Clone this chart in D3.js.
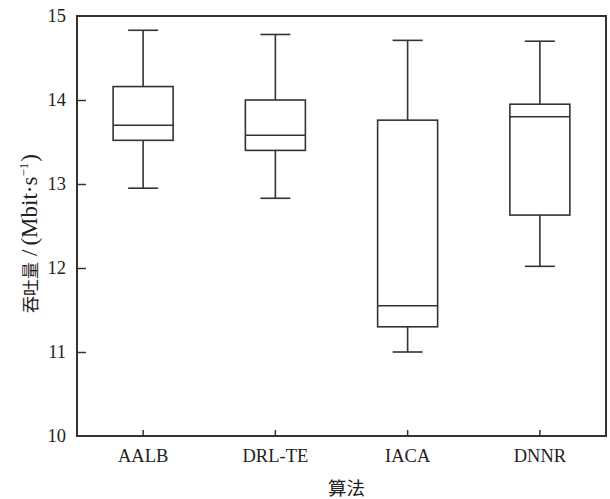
<!DOCTYPE html>
<html>
<head>
<meta charset="utf-8">
<script src="https://cdn.jsdelivr.net/npm/d3@7"></script>
<style>
  body { margin: 0; background: #fff; }
  svg { display: block; }
  .serif { font-family: "Liberation Serif", "Tinos", "Times New Roman", "DejaVu Serif", serif; }
  .cjk { font-family: "Noto Sans CJK SC", "Noto Sans CJK JP", sans-serif; }
</style>
</head>
<body>
<svg id="chart" width="610" height="499"></svg>
<script>
// Throughput distribution per algorithm (Mbit/s)
const algorithms = ["AALB", "DRL-TE", "IACA", "DNNR"];
const whiskerLow  = [12.95, 12.83, 11.00, 12.02];
const quartile1   = [13.52, 13.40, 11.30, 12.63];
const medians     = [13.70, 13.58, 11.55, 13.80];
const quartile3   = [14.16, 14.00, 13.76, 13.95];
const whiskerHigh = [14.83, 14.78, 14.71, 14.70];
const yTicks = [10, 11, 12, 13, 14, 15];

const boxes = algorithms.map((name, i) => ({
  name, lo: whiskerLow[i], q1: quartile1[i], med: medians[i], q3: quartile3[i], hi: whiskerHigh[i]
}));

const svg = d3.select("#chart");
const margin = { left: 77, right: 4, top: 16, bottom: 63 };
const W = 610, H = 499;
const ink = "#333";

const x = d3.scaleBand().domain(algorithms)
  .range([margin.left, W - margin.right]).paddingInner(0).paddingOuter(0);
const y = d3.scaleLinear().domain([10, 15]).range([H - margin.bottom, margin.top]);

const boxW = 60, capW = 30;

// axes with inward ticks
const yAxis = svg.append("g").attr("transform", `translate(${margin.left},0)`)
  .call(d3.axisLeft(y).tickValues(yTicks).tickSize(-9).tickPadding(11).tickFormat(d3.format("d")));
const xAxis = svg.append("g").attr("transform", `translate(0,${H - margin.bottom})`)
  .call(d3.axisBottom(x).tickSize(-6).tickPadding(13));

[yAxis, xAxis].forEach(g => {
  g.attr("font-family", null).attr("font-size", null);
  g.select(".domain").remove();
  g.selectAll(".tick line").attr("stroke", ink).attr("stroke-width", 1.5);
  g.selectAll(".tick text").attr("class", "serif").attr("fill", "#222").attr("font-size", 18.5);
});
yAxis.selectAll(".tick").filter(d => d === 10 || d === 15).select("line").remove();

// plot frame
svg.append("rect")
  .attr("x", margin.left).attr("y", margin.top)
  .attr("width", W - margin.left - margin.right)
  .attr("height", H - margin.top - margin.bottom)
  .attr("fill", "none").attr("stroke", ink).attr("stroke-width", 2);

// box plots
const g = svg.append("g").attr("stroke", ink).attr("stroke-width", 1.6).attr("fill", "none");
const cx = d => x(d.name) + x.bandwidth() / 2;
const items = g.selectAll("g.box").data(boxes).join("g").attr("class", "box");
items.append("line").attr("x1", cx).attr("x2", cx).attr("y1", d => y(d.hi)).attr("y2", d => y(d.q3));
items.append("line").attr("x1", cx).attr("x2", cx).attr("y1", d => y(d.q1)).attr("y2", d => y(d.lo));
items.append("line").attr("x1", d => cx(d) - capW / 2).attr("x2", d => cx(d) + capW / 2)
  .attr("y1", d => y(d.hi)).attr("y2", d => y(d.hi));
items.append("line").attr("x1", d => cx(d) - capW / 2).attr("x2", d => cx(d) + capW / 2)
  .attr("y1", d => y(d.lo)).attr("y2", d => y(d.lo));
items.append("rect").attr("x", d => cx(d) - boxW / 2).attr("width", boxW)
  .attr("y", d => y(d.q3)).attr("height", d => y(d.q1) - y(d.q3)).attr("fill", "#fff");
items.append("line").attr("x1", d => cx(d) - boxW / 2).attr("x2", d => cx(d) + boxW / 2)
  .attr("y1", d => y(d.med)).attr("y2", d => y(d.med));

// y axis title
const yTitle = svg.append("text")
  .attr("transform", "translate(37,233.5) rotate(-90)")
  .attr("text-anchor", "middle").attr("fill", "#222");
yTitle.append("tspan").attr("class", "cjk").attr("font-size", 17).text("吞吐量");
yTitle.append("tspan").attr("class", "serif").attr("font-size", 23).attr("dx", 6).text("/");
yTitle.append("tspan").attr("class", "serif").attr("font-size", 23).attr("dx", 4).text("(Mbit·s");
yTitle.append("tspan").attr("class", "serif").attr("font-size", 13).attr("dy", -9).text("−1");
yTitle.append("tspan").attr("class", "serif").attr("font-size", 23).attr("dy", 9).attr("dx", 1).text(")");

// x axis title
svg.append("text")
  .attr("class", "cjk")
  .attr("x", 346.5).attr("y", 495)
  .attr("text-anchor", "middle").attr("fill", "#222")
  .attr("font-size", 18.5)
  .text("算法");
</script>
</body>
</html>
